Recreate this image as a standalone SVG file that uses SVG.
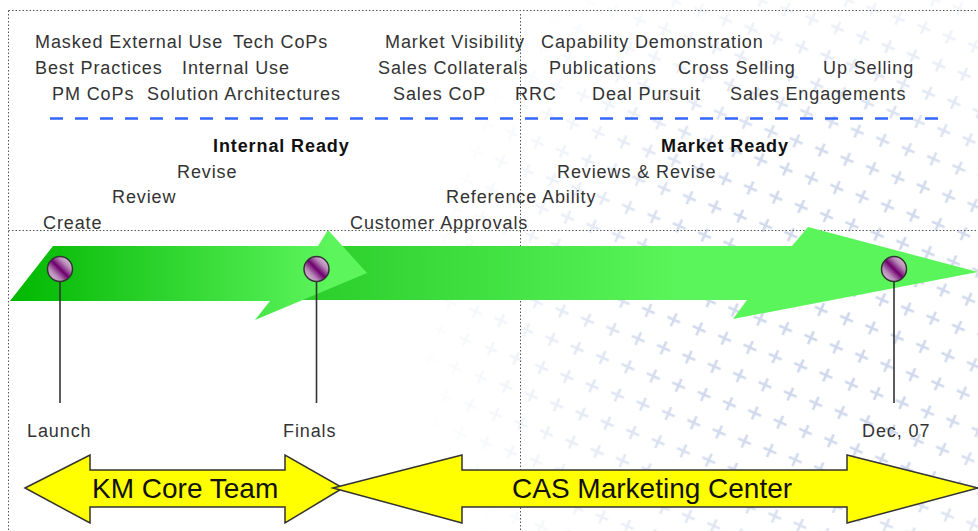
<svg xmlns="http://www.w3.org/2000/svg" width="978" height="531" viewBox="0 0 978 531">
<style>
.t{font-family:"Liberation Sans",Arial,sans-serif;font-size:18px;letter-spacing:0.9px;fill:#333}
.b{font-family:"Liberation Sans",Arial,sans-serif;font-size:18px;letter-spacing:0.9px;font-weight:bold;fill:#111}
.big{font-family:"Liberation Sans",Arial,sans-serif;font-size:28px;fill:#111}
.dot{stroke:#555;stroke-width:1;stroke-dasharray:1.5 2;fill:none}
.stem{stroke:#333;stroke-width:1.6;fill:none}
.pin{fill:url(#pinG);stroke:#333;stroke-width:1.5}
.yel{fill:#ffff00;stroke:#333;stroke-width:1.5;stroke-linejoin:miter}
</style>
<defs>
<pattern id="cross" width="27" height="30" patternUnits="userSpaceOnUse" patternTransform="rotate(20)">
<path d="M6.5 10 h14 M13.5 3 v14" stroke="#cdd6eb" stroke-width="2.6" fill="none" transform="rotate(4 13.5 10)"/>
</pattern>
<radialGradient id="fade" cx="830" cy="320" r="420" gradientUnits="userSpaceOnUse">
<stop offset="0" stop-color="#fff" stop-opacity="1"/>
<stop offset="0.4" stop-color="#fff" stop-opacity="0.9"/>
<stop offset="0.75" stop-color="#fff" stop-opacity="0.3"/>
<stop offset="1" stop-color="#fff" stop-opacity="0"/>
</radialGradient>
<mask id="m"><rect width="978" height="531" fill="url(#fade)"/></mask>
<linearGradient id="g1" x1="10" y1="0" x2="330" y2="0" gradientUnits="userSpaceOnUse">
<stop offset="0" stop-color="#00b800"/>
<stop offset="0.35" stop-color="#22cc22"/>
<stop offset="1" stop-color="#5cf55c"/>
</linearGradient>
<linearGradient id="g2" x1="320" y1="0" x2="680" y2="0" gradientUnits="userSpaceOnUse">
<stop offset="0" stop-color="#2ccf2c"/>
<stop offset="1" stop-color="#5af55a"/>
</linearGradient>
<linearGradient id="pinG" x1="0" y1="1" x2="1" y2="0">
<stop offset="0" stop-color="#e8dce8"/>
<stop offset="0.3" stop-color="#b888b8"/>
<stop offset="0.5" stop-color="#6e006e"/>
<stop offset="0.7" stop-color="#b888b8"/>
<stop offset="1" stop-color="#f0e8f0"/>
</linearGradient>
</defs>

<rect width="978" height="531" fill="#fff"/>
<rect id="bgpattern" width="978" height="531" fill="url(#cross)" mask="url(#m)"/>

<g id="frame">
<line class="dot" x1="8.5" y1="10.5" x2="978" y2="10.5"/>
<line class="dot" x1="8.5" y1="10.5" x2="8.5" y2="531"/>
<line class="dot" x1="8.5" y1="230.5" x2="978" y2="230.5"/>
<line class="dot" x1="520.5" y1="14" x2="520.5" y2="531"/>
</g>

<line id="divider" x1="50" y1="118.5" x2="942" y2="118.5" stroke="#3366ff" stroke-width="2.5" stroke-dasharray="13 12"/>

<g id="topics">
<text class="t" x="35" y="48">Masked External Use</text>
<text class="t" x="233" y="48">Tech CoPs</text>
<text class="t" x="385" y="48">Market Visibility</text>
<text class="t" x="541" y="48">Capability Demonstration</text>
<text class="t" x="35" y="74">Best Practices</text>
<text class="t" x="182" y="74">Internal Use</text>
<text class="t" x="378" y="74">Sales Collaterals</text>
<text class="t" x="549" y="74">Publications</text>
<text class="t" x="678" y="74">Cross Selling</text>
<text class="t" x="823" y="74">Up Selling</text>
<text class="t" x="52" y="100">PM CoPs</text>
<text class="t" x="147" y="100">Solution Architectures</text>
<text class="t" x="393" y="100">Sales CoP</text>
<text class="t" x="515" y="100">RRC</text>
<text class="t" x="592" y="100">Deal Pursuit</text>
<text class="t" x="730" y="100">Sales Engagements</text>
</g>

<g id="stages">
<text class="b" x="213" y="152">Internal Ready</text>
<text class="b" x="661" y="152">Market Ready</text>
<text class="t" x="177" y="178">Revise</text>
<text class="t" x="557" y="178">Reviews &amp; Revise</text>
<text class="t" x="112" y="203">Review</text>
<text class="t" x="446" y="203">Reference Ability</text>
<text class="t" x="43" y="229">Create</text>
<text class="t" x="350" y="229">Customer Approvals</text>
</g>

<g id="arrow-market">
<polygon points="60,246 792,246 808,227 978,272 733,319 747,300 60,300" fill="url(#g2)"/>
</g>
<g id="arrow-internal">
<polygon points="10,301 53,246 318,246 328,230 367,273 255,320 270,301" fill="url(#g1)"/>
</g>

<g id="connectors">
<line class="stem" x1="60" y1="281" x2="60" y2="403"/>
<line class="stem" x1="316.5" y1="281" x2="316.5" y2="403"/>
<line class="stem" x1="894" y1="281" x2="894" y2="403"/>
</g>

<g id="launch">
<circle class="pin" cx="60" cy="269" r="12.5"/>
<text class="t" x="27" y="437">Launch</text>
</g>
<g id="finals">
<circle class="pin" cx="316.5" cy="269" r="12.5"/>
<text class="t" x="283" y="437">Finals</text>
</g>
<g id="dec07">
<circle class="pin" cx="894" cy="269" r="12.5"/>
<text class="t" x="862" y="437">Dec, 07</text>
</g>

<g id="km-core-team">
<polygon class="yel" points="25,488 90,455 90,470 285,470 285,455 343,488 285,523 285,507 90,507 90,523"/>
<text class="big" x="92" y="498">KM Core Team</text>
</g>
<g id="cas-marketing-center">
<polygon class="yel" points="333,488 462,455 462,470 847,470 847,455 978,488 847,523 847,507 462,507 462,523"/>
<text class="big" x="512" y="498">CAS Marketing Center</text>
</g>
</svg>
